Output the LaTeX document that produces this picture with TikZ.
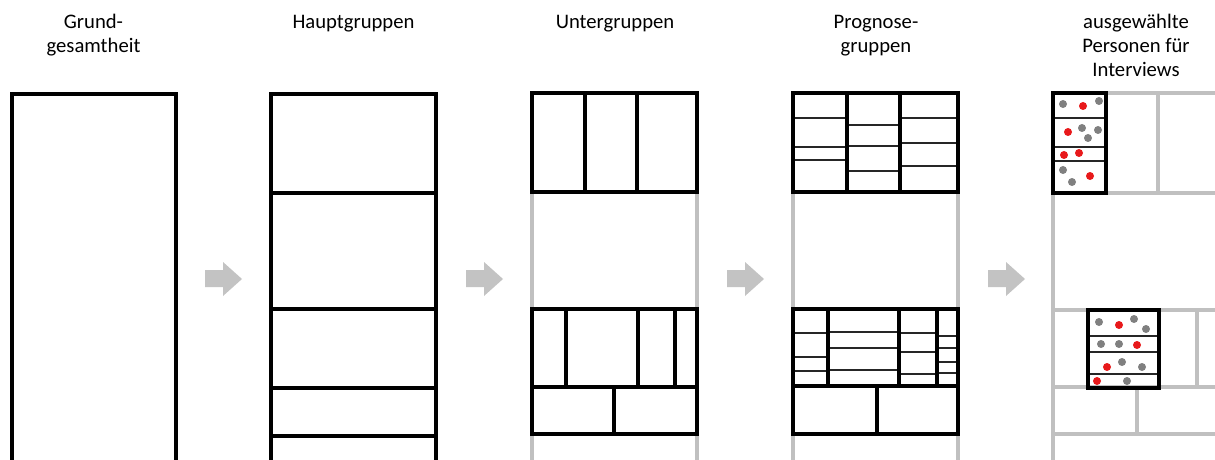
\documentclass[tikz,border=0pt]{standalone}
\usepackage{fontspec}
\setmainfont{Carlito}
\usetikzlibrary{positioning}
\definecolor{hellgrau}{HTML}{C0C0C0}
\definecolor{pfeilgrau}{HTML}{C3C3C3}
\definecolor{punktgrau}{HTML}{808080}
\definecolor{punktrot}{HTML}{E8191B}

\begin{document}
\begin{tikzpicture}[x=0.75pt,y=-0.75pt,
  rahmen/.style={line width=3pt,draw=black},
  teiler/.style={line width=2.6pt,draw=black},
  fein/.style={line width=1pt,draw=black!85},
  grau/.style={line width=2.6pt,draw=hellgrau},
  titel/.style={font=\fontsize{15.5}{18}\selectfont,align=center,anchor=base,inner sep=0pt},
  pg/.style={fill=punktgrau},
  pr/.style={fill=punktrot}]
  \clip (0,0) rectangle (1215,460);

  % Titel (base = letzte Zeile)
  \node[titel] (grund)  at (93.5,53)  {Grund-\\gesamtheit};
  \node[titel] (haupt)  at (353.5,29) {Hauptgruppen};
  \node[titel] (unter)  at (615,29)   {Untergruppen};
  \node[titel] (prog)   at (876,53)   {Prognose-\\gruppen};
  \node[titel] (auswahl) at (1136,77) {ausgewählte\\Personen für\\Interviews};

  % Pfeile
  \foreach \dx in {0,261,522,783}
    \fill[pfeilgrau] (205+\dx,270) -- (223+\dx,270) -- (223+\dx,262) -- (242+\dx,279)
      -- (223+\dx,296) -- (223+\dx,287) -- (205+\dx,287) -- cycle;

  % Grundgesamtheit
  \draw[rahmen] (12,94) rectangle (176,490);

  % Hauptgruppen
  \draw[rahmen] (271,94) rectangle (436,490);
  \foreach \y in {193,309,388,436}
    \draw[teiler] (271,\y) -- (436,\y);

  % Untergruppen
  \draw[grau] (532,93) -- (532,490) (697,93) -- (697,490);
  \draw[rahmen] (532,93) rectangle (697,192);
  \draw[teiler] (585,93) -- (585,192) (637,93) -- (637,192);
  \draw[rahmen] (532,309) rectangle (697,434);
  \draw[teiler] (532,387) -- (697,387);
  \draw[teiler] (566,309) -- (566,387) (638,309) -- (638,387) (675,309) -- (675,387);
  \draw[teiler] (614,387) -- (614,434);

  % Prognosegruppen
  \draw[grau] (793,93) -- (793,490) (958,93) -- (958,490);
  \draw[fein] (793,118) -- (847,118) (793,147) -- (847,147) (793,160) -- (847,160);
  \draw[fein] (847,125) -- (900,125) (847,146) -- (900,146) (847,171) -- (900,171);
  \draw[fein] (900,118) -- (958,118) (900,143) -- (958,143) (900,166) -- (958,166);
  \draw[rahmen] (793,93) rectangle (958,192);
  \draw[teiler] (847,93) -- (847,192) (900,93) -- (900,192);
  \draw[fein] (793,333) -- (828,333) (793,357) -- (828,357) (793,371) -- (828,371);
  \draw[fein] (828,332) -- (899,332) (828,348) -- (899,348) (828,370) -- (899,370);
  \draw[fein] (899,333) -- (937,333) (899,352) -- (937,352) (899,374) -- (937,374);
  \draw[fein] (937,336) -- (958,336) (937,348) -- (958,348) (937,362) -- (958,362) (937,373) -- (958,373);
  \draw[rahmen] (793,309) rectangle (958,434);
  \draw[teiler] (793,386) -- (958,386);
  \draw[teiler] (828,309) -- (828,386) (899,309) -- (899,386) (937,309) -- (937,386);
  \draw[teiler] (877,386) -- (877,434);

  % ausgewaehlte Personen
  \draw[grau] (1053,490) -- (1053,93) -- (1230,93);
  \draw[grau] (1106,93) -- (1106,193) (1158,93) -- (1158,193);
  \draw[grau] (1053,193) -- (1230,193);
  \draw[grau] (1053,310) -- (1230,310) (1053,387) -- (1230,387) (1053,434) -- (1230,434);
  \draw[grau] (1197,310) -- (1197,387) (1137,387) -- (1137,434);
  \draw[fein] (1053,118) -- (1106,118) (1053,147) -- (1106,147) (1053,161) -- (1106,161);
  \draw[rahmen] (1053,93) rectangle (1106,193);
  \draw[fein] (1088,336) -- (1159,336) (1088,352) -- (1159,352) (1088,374) -- (1159,374);
  \draw[rahmen] (1088,310) rectangle (1159,388);

  % Personen oben
  \foreach \px/\py in {1063/104,1099/101,1082/128,1098/130,1088/138,1063/170,1072/182}
    \fill[pg] (\px,\py) circle (3pt);
  \foreach \px/\py in {1083/106,1068/132,1064/155,1079/153,1090/176}
    \fill[pr] (\px,\py) circle (3pt);
  % Personen unten
  \foreach \px/\py in {1099/322,1134/319,1146/329,1101/344,1119/344,1122/362,1142/367,1127/381}
    \fill[pg] (\px,\py) circle (3pt);
  \foreach \px/\py in {1119/325,1137/345,1107/367,1097/381}
    \fill[pr] (\px,\py) circle (3pt);
\end{tikzpicture}
\end{document}
